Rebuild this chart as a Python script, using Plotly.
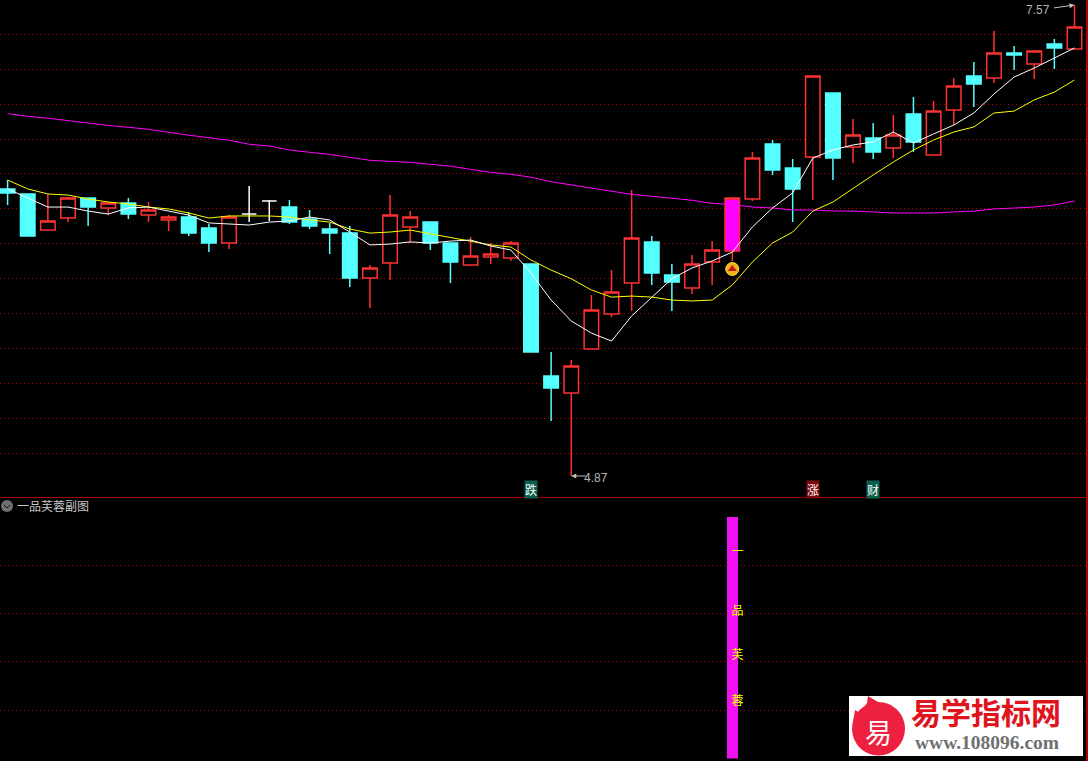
import plotly.graph_objects as go

opens  = [6.514,6.485,6.278,6.347,6.462,6.405,6.433,6.364,6.336,6.353,6.290,6.204,6.370,6.445,6.410,6.342,6.284,6.261,6.003,6.089,6.296,6.324,6.204,6.078,6.124,6.118,6.084,5.442,5.344,5.597,5.797,5.975,6.210,6.021,5.946,6.095,6.158,6.456,6.771,6.634,6.697,7.064,6.754,6.806,6.748,6.943,6.708,6.966,7.161,7.150,7.293,7.230,7.344,7.316]
highs  = [6.565,6.485,6.485,6.468,6.462,6.439,6.462,6.439,6.364,6.382,6.313,6.364,6.531,6.450,6.450,6.393,6.319,6.301,6.078,6.479,6.387,6.324,6.204,6.238,6.204,6.215,6.084,5.579,5.533,5.906,6.049,6.508,6.244,6.084,6.135,6.215,6.462,6.726,6.794,6.685,7.161,7.064,6.915,6.892,6.938,7.041,7.018,7.150,7.241,7.419,7.333,7.310,7.373,7.568]
lows   = [6.422,6.244,6.278,6.324,6.301,6.364,6.342,6.324,6.273,6.244,6.152,6.170,6.324,6.330,6.313,6.284,6.141,5.952,5.832,5.992,6.204,6.164,5.975,6.078,6.084,6.101,5.579,5.184,4.869,5.597,5.780,5.814,5.963,5.814,5.912,5.963,6.101,6.445,6.594,6.324,6.450,6.565,6.662,6.685,6.691,6.726,6.708,6.880,6.983,7.121,7.195,7.144,7.201,7.316]
closes = [6.491,6.244,6.330,6.462,6.410,6.433,6.370,6.393,6.353,6.261,6.204,6.353,6.370,6.445,6.324,6.301,6.261,6.003,6.061,6.364,6.353,6.204,6.095,6.129,6.141,6.204,5.579,5.373,5.499,5.820,5.923,6.233,6.032,5.981,6.084,6.164,6.462,6.691,6.622,6.514,7.161,6.691,6.823,6.726,6.823,6.783,6.960,7.104,7.115,7.293,7.281,7.304,7.322,7.442]
ma_short = [6.514,6.462,6.410,6.410,6.387,6.370,6.405,6.410,6.387,6.364,6.319,6.313,6.307,6.324,6.330,6.353,6.336,6.267,6.193,6.198,6.210,6.204,6.215,6.221,6.187,6.164,6.032,5.877,5.757,5.688,5.642,5.786,5.894,5.999,6.061,6.101,6.152,6.296,6.405,6.491,6.691,6.737,6.766,6.783,6.840,6.777,6.829,6.880,6.949,7.058,7.155,7.207,7.264,7.322]
ma_mid = [6.565,6.514,6.485,6.479,6.456,6.439,6.428,6.410,6.399,6.376,6.347,6.359,6.359,6.359,6.353,6.336,6.324,6.284,6.261,6.267,6.278,6.256,6.238,6.215,6.193,6.181,6.107,6.049,5.999,5.935,5.894,5.900,5.894,5.877,5.872,5.877,5.963,6.095,6.204,6.267,6.387,6.439,6.519,6.594,6.668,6.737,6.794,6.840,6.869,6.949,6.960,7.024,7.069,7.138]
ma_long = [6.946,6.930,6.919,6.905,6.890,6.878,6.867,6.856,6.838,6.821,6.807,6.793,6.770,6.760,6.737,6.724,6.712,6.695,6.678,6.672,6.666,6.655,6.644,6.626,6.609,6.598,6.581,6.555,6.538,6.518,6.500,6.483,6.472,6.460,6.449,6.431,6.425,6.410,6.405,6.393,6.393,6.387,6.387,6.382,6.376,6.376,6.376,6.382,6.387,6.399,6.405,6.410,6.422,6.445]
price_grid = [7.4,7.2,7.0,6.8,6.6,6.4,6.2,6.0,5.8,5.6,5.4,5.2,5.0]
sub_grid = [0.8,0.6,0.4,0.2]
signal_index = 36
signal_price = 6.055
sub_bar_value = 1.0
sub_chars = ["一","品","芙","蓉"]
sub_char_values = [0.852,0.607,0.425,0.235]
flags = [(26,"跌","#0b5f4e"),(40,"涨","#7a0808"),(43,"财","#0b5f4e")]
flag_price = 4.793

W, H = 1088, 761
RED, CYAN, GRID = "#ff3232", "#54ffff", "#b00000"
def px(x): return x / W
def py(y): return 1 - y / H

x_all = list(range(len(opens)))
fig = go.Figure()

def candle(idx, inc_fill, inc_line, dec_fill, dec_line):
    fig.add_trace(go.Candlestick(
        x=idx, open=[opens[i] for i in idx], high=[highs[i] for i in idx],
        low=[lows[i] for i in idx], close=[closes[i] for i in idx],
        increasing=dict(fillcolor=inc_fill, line=dict(color=inc_line, width=1.5)),
        decreasing=dict(fillcolor=dec_fill, line=dict(color=dec_line, width=1.5)),
        whiskerwidth=0, xaxis="x", yaxis="y", hoverinfo="skip", showlegend=False))

up = [i for i in x_all if closes[i] > opens[i] and i != signal_index]
down = [i for i in x_all if closes[i] < opens[i]]
doji = [i for i in x_all if closes[i] == opens[i]]
candle(up, "#000000", RED, "#000000", RED)
candle(down, CYAN, CYAN, CYAN, CYAN)
candle(doji, "#ffffff", "#ffffff", "#ffffff", "#ffffff")
candle([signal_index], "#ff00ff", RED, "#ff00ff", RED)

for vals, col in ((ma_long, "#ff00ff"), (ma_mid, "#ffff00"), (ma_short, "#ffffff")):
    fig.add_trace(go.Scatter(x=x_all, y=vals, mode="lines", line=dict(color=col, width=1),
                             xaxis="x", yaxis="y", hoverinfo="skip", showlegend=False))

fig.add_trace(go.Scatter(x=[signal_index], y=[signal_price], mode="markers",
    marker=dict(symbol="circle", size=13, color="#f2b01e", line=dict(color="#ffe23c", width=1)),
    xaxis="x", yaxis="y", hoverinfo="skip", showlegend=False))
fig.add_trace(go.Scatter(x=[signal_index], y=[signal_price], mode="markers",
    marker=dict(symbol="triangle-up", size=8, color="#c41a10"),
    xaxis="x", yaxis="y", hoverinfo="skip", showlegend=False))

fig.add_trace(go.Bar(x=[signal_index], y=[sub_bar_value], width=0.55, marker=dict(color="#f010f0", line=dict(width=0)),
                     xaxis="x2", yaxis="y2", hoverinfo="skip", showlegend=False))
fig.add_trace(go.Scatter(x=[signal_index + 0.25] * len(sub_chars), y=sub_char_values, mode="text", text=sub_chars,
                         textfont=dict(family="Noto Sans CJK SC", size=12, color="#ffff00"),
                         xaxis="x2", yaxis="y2", hoverinfo="skip", showlegend=False))

xrange = [-7 / 20.13 - 0.03, (W - 7) / 20.13 - 0.03]
xrange2 = [xrange[0] - 0.01, xrange[1] - 0.01]
grid = dict(showgrid=True, gridcolor=GRID, gridwidth=1, griddash="1px,3px", zeroline=False,
            showticklabels=False, ticks="", showline=False)
noaxis = dict(showgrid=False, zeroline=False, showticklabels=False, ticks="", showline=False)

ann = []
for i, ch, bg in flags:
    ann.append(dict(x=i, y=flag_price, xref="x", yref="y", text=ch, showarrow=False, bgcolor=bg,
                    font=dict(family="Noto Sans CJK SC", size=12, color="#ffffff"), borderpad=0))
def label(x, y, text, family, size, color, anchor="center"):
    return dict(x=px(x), y=py(y), xref="paper", yref="paper", xanchor=anchor, yanchor="middle", text=text,
                showarrow=False, font=dict(family=family, size=size, color=color))
ann += [
    dict(x=28, y=min(lows), xref="x", yref="y", ax=15, ay=0, axref="pixel", ayref="pixel", text=" ",
         font=dict(size=1), borderpad=0, showarrow=True, arrowhead=2, arrowsize=1, arrowwidth=1, arrowcolor="#c0c0c0"),
    label(582, 478, "4.87", "Liberation Sans", 12, "#b4b4b4", "left"),
    dict(x=53, y=max(highs), xref="x", yref="y", ax=-21, ay=3, axref="pixel", ayref="pixel", text=" ",
         font=dict(size=1), borderpad=0, showarrow=True, arrowhead=2, arrowsize=1, arrowwidth=1, arrowcolor="#c0c0c0"),
    label(1052, 10, "7.57", "Liberation Sans", 12, "#b4b4b4", "right"),
    label(15, 506, "一品芙蓉副图", "Noto Sans CJK SC", 12, "#c8c8c8", "left"),
    label(878, 731, "易", "Noto Sans CJK SC", 27, "#ffffff"),
    label(985.5, 711, "<b>易学指标网</b>", "Noto Sans CJK SC", 30, "#e0141c"),
    label(986.5, 742, "<b>www.108096.com</b>", "Liberation Serif", 19.5, "#707070"),
]

def P(*pts):
    return "M" + " L".join(f"{px(a):.5f},{py(b):.5f}" for a, b in pts) + " Z"

shapes = [
    dict(type="line", xref="paper", yref="paper", x0=0, x1=1, y0=py(497.5), y1=py(497.5), line=dict(color="#a80000", width=1)),
    dict(type="line", xref="paper", yref="paper", x0=px(1087), x1=px(1087), y0=0, y1=1, line=dict(color="#b00000", width=2)),
    dict(type="circle", xref="paper", yref="paper", x0=px(1), x1=px(13), y0=py(512), y1=py(500), fillcolor="#707070", line=dict(width=0)),
    dict(type="path", xref="paper", yref="paper", path=f"M{px(4):.5f},{py(505):.5f} L{px(7):.5f},{py(508):.5f} L{px(10):.5f},{py(505):.5f}", line=dict(color="#111111", width=1)),
    dict(type="rect", xref="paper", yref="paper", x0=px(849), x1=px(1083), y0=py(756), y1=py(696), fillcolor="#ffffff", line=dict(width=0), layer="above"),
    dict(type="circle", xref="paper", yref="paper", x0=px(852), x1=px(905), y0=py(755.5), y1=py(702), fillcolor="#ee2040", line=dict(width=0), layer="above"),
    dict(type="path", xref="paper", yref="paper", layer="above", fillcolor="#ee2040", line=dict(width=0),
         path=P((868,696),(878,702),(888,712),(890,718),(895,712),(900,722),(878,732),(853,722),(855,710),(860,713),(867,703))),
]

fig.update_layout(
    width=W, height=H, margin=dict(l=0, r=0, t=0, b=0), autosize=False,
    paper_bgcolor="#000000", plot_bgcolor="#000000", showlegend=False,
    boxgap=0.1, boxgroupgap=0.2,
    xaxis=dict(noaxis, range=xrange, domain=[0, 1], anchor="y", rangeslider=dict(visible=False)),
    yaxis=dict(grid, domain=[py(497), 1], range=[4.7485, 7.5966], tickvals=price_grid, anchor="x"),
    xaxis2=dict(noaxis, range=xrange2, domain=[0, 1], anchor="y2"),
    yaxis2=dict(grid, domain=[0, py(497)], range=[-0.01, 1.083], tickvals=sub_grid, anchor="x2"),
    annotations=ann, shapes=shapes,
)
fig.write_html("out.html", config=dict(displayModeBar=False),
               post_script="document.body.style.margin='0';document.body.style.background='#000';document.documentElement.style.overflow='hidden';")
